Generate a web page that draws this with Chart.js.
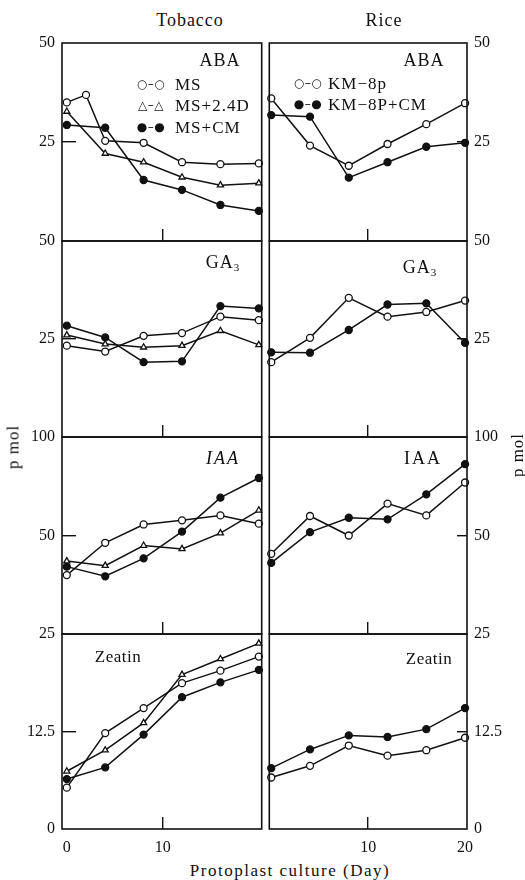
<!DOCTYPE html>
<html>
<head>
<meta charset="utf-8">
<script src="https://cdn.jsdelivr.net/npm/chart.js@4.4.0/dist/chart.umd.min.js"></script>
<style>
  html, body { margin: 0; padding: 0; background: #fff; }
  #wrap { position: relative; width: 525px; height: 880px; font-family: 'Liberation Serif', 'DejaVu Serif', serif; color: #111; }
  .box { position: absolute; }
  .txt { position: absolute; white-space: nowrap; line-height: 1; transform: translate(-50%, -50%); }
  .lt { position: absolute; white-space: nowrap; line-height: 1; transform: translateY(-50%); font-size: 17px; letter-spacing: 1px; }
  .sym { font-family: 'DejaVu Sans', sans-serif; font-size: 12px; letter-spacing: 0.5px; }
</style>
</head>
<body>
<div id="wrap"></div>
<script>
// days after protoplast isolation
const tobaccoDays = [0, 4, 8, 12, 16, 20];
const tobaccoAbaMsDays = [0, 2, 4, 8, 12, 16, 20];
const riceDays = [0, 4, 8, 12, 16, 20];

// Tobacco (p mol)
const tobAbaMS = [35.0, 36.9, 25.3, 24.8, 19.9, 19.4, 19.6];
const tobAba24D = [32.7, 22.1, 19.9, 16.1, 14.1, 14.6];
const tobAbaCM = [29.3, 28.6, 15.4, 12.9, 9.1, 7.6];
const tobGaMS = [23.3, 21.8, 25.8, 26.5, 30.7, 29.8];
const tobGa24D = [26.0, 23.7, 22.9, 23.3, 27.1, 23.5];
const tobGaCM = [28.4, 25.4, 19.1, 19.3, 33.4, 32.8];
const tobIaaMS = [29.9, 46.3, 55.6, 57.7, 60.2, 56.0];
const tobIaa24D = [37.0, 34.7, 44.9, 43.2, 51.2, 62.8];
const tobIaaCM = [34.2, 29.3, 38.4, 52.0, 69.2, 79.2];
const tobZeaMS = [5.3, 12.3, 15.5, 18.7, 20.3, 22.1];
const tobZea24D = [7.4, 10.1, 13.6, 19.8, 21.8, 23.8];
const tobZeaCM = [6.4, 7.9, 12.1, 16.9, 18.8, 20.4];

// Rice (p mol)
const riceAbaKM = [36.0, 24.1, 19.0, 24.5, 29.5, 34.8];
const riceAbaCM = [31.8, 31.4, 16.0, 19.9, 23.8, 24.8];
const riceGaKM = [19.1, 25.3, 35.5, 30.7, 31.9, 34.8];
const riceGaCM = [21.6, 21.5, 27.3, 33.8, 34.1, 24.0];
const riceIaaKM = [40.7, 59.9, 50.0, 66.2, 60.2, 76.9];
const riceIaaCM = [36.1, 51.7, 59.0, 58.2, 70.9, 86.2];
const riceZeaKM = [6.6, 8.1, 10.7, 9.4, 10.1, 11.7];
const riceZeaCM = [7.8, 10.2, 12.0, 11.8, 12.8, 15.5];

// tick labels
const abaTicks = [25, 50];
const gaTicks = [25, 50];
const iaaTicks = [50, 100];
const zeaTicks = [0, 12.5, 25];
const tobaccoDayTicks = [0, 10];
const riceDayTicks = [10, 20];

const wrap = document.getElementById('wrap');
const rowTop = [43, 241, 437, 634];
const rowBottom = [241, 437, 634, 829];

const pointKinds = {
  open: { pointStyle: 'circle', pointBackgroundColor: '#fff' },
  tri: { pointStyle: 'triangle', pointBackgroundColor: '#fff' },
  fill: { pointStyle: 'circle', pointBackgroundColor: '#111' }
};

function series(label, xs, ys, kind) {
  return Object.assign({
    label: label,
    data: ys.map((y, i) => ({ x: xs[i], y: y })),
    borderColor: '#111',
    borderWidth: 1.5,
    pointBorderColor: '#111',
    pointBorderWidth: 1.3,
    pointRadius: 3.5,
    tension: 0,
    clip: false
  }, pointKinds[kind]);
}

// panel frame
const framePlugin = {
  id: 'panelFrame',
  afterDraw(chart) {
    const ctx = chart.ctx, a = chart.chartArea;
    ctx.save();
    ctx.strokeStyle = '#111';
    ctx.lineWidth = 1.6;
    ctx.strokeRect(a.left, a.top, a.right - a.left, a.bottom - a.top);
    ctx.restore();
  }
};

// only one short inward tick mark per axis is drawn
function markOnly(value) {
  return c => (c.tick && c.tick.value === value) ? '#111' : 'rgba(0,0,0,0)';
}

function makePanel(col, row, datasets, yMax, yTicks, midY) {
  const left = col === 0;
  const bottomRow = row === 3;
  const div = document.createElement('div');
  div.className = 'box';
  const top = rowTop[row] - 12;
  const h = rowBottom[row] - rowTop[row] + 12 + (bottomRow ? 30 : 12);
  div.style.top = top + 'px';
  div.style.height = h + 'px';
  div.style.left = (left ? 0 : 264) + 'px';
  div.style.width = (left ? 267 : 261) + 'px';
  const canvas = document.createElement('canvas');
  div.appendChild(canvas);
  wrap.appendChild(div);

  const font = { family: "'Liberation Serif', serif", size: 16 };
  const dayTicks = left ? tobaccoDayTicks : riceDayTicks;
  new Chart(canvas, {
    type: 'line',
    data: { datasets: datasets },
    plugins: [framePlugin],
    options: {
      responsive: true,
      maintainAspectRatio: false,
      animation: false,
      layout: { padding: { top: 12, bottom: bottomRow ? 0 : 12, left: left ? 0 : 4, right: left ? 4 : 0 } },
      plugins: {
        legend: { display: false },
        tooltip: { enabled: false }
      },
      scales: {
        x: {
          type: 'linear',
          min: left ? -0.5 : -0.2,
          max: left ? 20.3 : 20.2,
          grid: { drawOnChartArea: false, drawTicks: true, tickLength: -12, lineWidth: 1.4, color: markOnly(10) },
          border: { display: false },
          ticks: { display: bottomRow, color: '#111', font: font, padding: 21, maxRotation: 0 },
          afterBuildTicks: s => { s.ticks = (bottomRow ? dayTicks : [10]).map(v => ({ value: v })); },
          afterFit: s => { s.height = bottomRow ? 30 : 0; s.paddingLeft = 0; s.paddingRight = 0; }
        },
        y: {
          position: left ? 'left' : 'right',
          min: 0,
          max: yMax,
          grid: { drawOnChartArea: false, drawTicks: true, tickLength: left ? -14 : -10, lineWidth: 1.4, color: markOnly(midY) },
          border: { display: false },
          ticks: { color: '#111', font: font, padding: left ? 21 : 17 },
          afterBuildTicks: s => { s.ticks = yTicks.map(v => ({ value: v })); },
          afterFit: s => { s.width = left ? 62 : 58; s.paddingTop = 0; s.paddingBottom = 0; }
        }
      }
    }
  });
}

// Tobacco column
makePanel(0, 0, [
  series('MS', tobaccoAbaMsDays, tobAbaMS, 'open'),
  series('MS+2.4D', tobaccoDays, tobAba24D, 'tri'),
  series('MS+CM', tobaccoDays, tobAbaCM, 'fill')
], 50, abaTicks, 25);
makePanel(0, 1, [
  series('MS', tobaccoDays, tobGaMS, 'open'),
  series('MS+2.4D', tobaccoDays, tobGa24D, 'tri'),
  series('MS+CM', tobaccoDays, tobGaCM, 'fill')
], 50, gaTicks, 25);
makePanel(0, 2, [
  series('MS', tobaccoDays, tobIaaMS, 'open'),
  series('MS+2.4D', tobaccoDays, tobIaa24D, 'tri'),
  series('MS+CM', tobaccoDays, tobIaaCM, 'fill')
], 100, iaaTicks, 50);
makePanel(0, 3, [
  series('MS', tobaccoDays, tobZeaMS, 'open'),
  series('MS+2.4D', tobaccoDays, tobZea24D, 'tri'),
  series('MS+CM', tobaccoDays, tobZeaCM, 'fill')
], 25, zeaTicks, 12.5);

// Rice column
makePanel(1, 0, [
  series('KM-8p', riceDays, riceAbaKM, 'open'),
  series('KM-8P+CM', riceDays, riceAbaCM, 'fill')
], 50, abaTicks, 25);
makePanel(1, 1, [
  series('KM-8p', riceDays, riceGaKM, 'open'),
  series('KM-8P+CM', riceDays, riceGaCM, 'fill')
], 50, gaTicks, 25);
makePanel(1, 2, [
  series('KM-8p', riceDays, riceIaaKM, 'open'),
  series('KM-8P+CM', riceDays, riceIaaCM, 'fill')
], 100, iaaTicks, 50);
makePanel(1, 3, [
  series('KM-8p', riceDays, riceZeaKM, 'open'),
  series('KM-8P+CM', riceDays, riceZeaCM, 'fill')
], 25, zeaTicks, 12.5);

// texts
function place(html, x, y, css, cls) {
  const d = document.createElement('div');
  d.className = cls || 'txt';
  d.innerHTML = html;
  d.style.left = x + 'px';
  d.style.top = y + 'px';
  if (css) d.style.cssText += css;
  wrap.appendChild(d);
}

place('Tobacco', 190, 20, 'font-size:18px;letter-spacing:1px;');
place('Rice', 384, 20, 'font-size:18px;letter-spacing:1px;');
place('ABA', 220, 60, 'font-size:18px;letter-spacing:1px;');
place('ABA', 424, 60, 'font-size:18px;letter-spacing:1px;');
place('GA<sub style="font-size:11px;vertical-align:-3px">3</sub>', 223, 263, 'font-size:18px;letter-spacing:1px;');
place('GA<sub style="font-size:11px;vertical-align:-3px">3</sub>', 420, 268, 'font-size:18px;letter-spacing:1px;');
place('IAA', 223, 458, 'font-size:18px;letter-spacing:2px;font-style:italic;');
place('IAA', 423, 458, 'font-size:18px;letter-spacing:2px;');
place('Zeatin', 118, 656, 'font-size:17px;letter-spacing:0.5px;');
place('Zeatin', 429, 658, 'font-size:17px;letter-spacing:0.5px;');

// legends
place('<span class="sym">○–○</span>', 151, 83);
place('<span class="sym">△–△</span>', 151, 104);
place('<span class="sym">●–●</span>', 151, 126);
place('MS', 175, 84, '', 'lt');
place('MS+2.4D', 175, 105, '', 'lt');
place('MS+CM', 175, 127, '', 'lt');
place('<span class="sym">○–○</span>', 308, 82);
place('<span class="sym">●–●</span>', 308, 103);
place('KM−8p', 328, 83, '', 'lt');
place('KM−8P+CM', 328, 104, '', 'lt');

// axis titles
place('p mol', 13, 447, 'font-size:17px;letter-spacing:1px;transform:translate(-50%,-50%) rotate(-90deg);');
place('p mol', 517, 455, 'font-size:17px;letter-spacing:1px;transform:translate(-50%,-50%) rotate(-90deg);');
place('Protoplast culture (Day)', 290, 870, 'font-size:17px;letter-spacing:1.5px;');
</script>
</body>
</html>
